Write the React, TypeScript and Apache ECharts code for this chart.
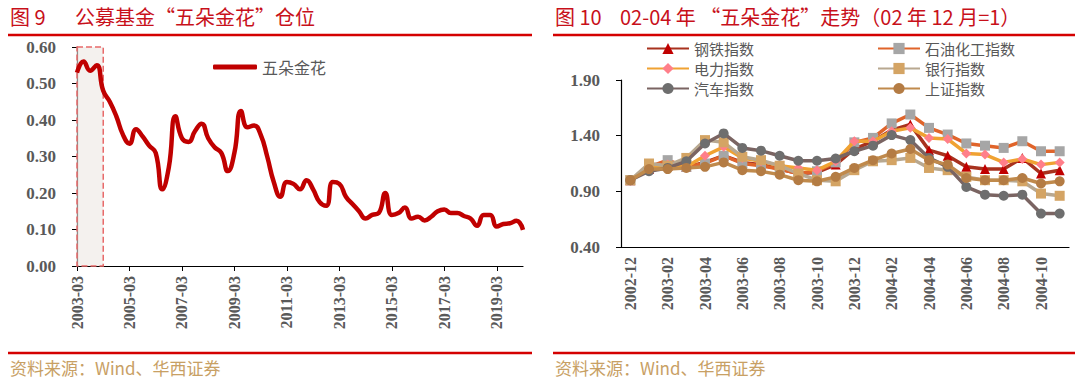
import React, { useEffect, useRef } from "react";
import * as echarts from "echarts";

// ---------- Left chart: 公募基金“五朵金花”仓位 (quarterly) ----------
const holdCategories: string[] = [];
for (let y = 2003; y <= 2020; y++) {
  for (const m of ["03", "06", "09", "12"]) {
    if (y === 2020 && m !== "03") continue;
    holdCategories.push(`${y}-${m}`);
  }
}
const holdValues = [
  0.53, 0.56, 0.535, 0.55, 0.48, 0.45, 0.41, 0.36, 0.335, 0.375, 0.355, 0.33,
  0.31, 0.21, 0.27, 0.41, 0.35, 0.34, 0.37, 0.39, 0.35, 0.325, 0.31, 0.26,
  0.31, 0.425, 0.38, 0.385, 0.36, 0.3, 0.23, 0.19, 0.23, 0.225, 0.21, 0.235,
  0.21, 0.175, 0.165, 0.23, 0.225, 0.19, 0.17, 0.15, 0.13, 0.14, 0.145, 0.2,
  0.14, 0.145, 0.16, 0.13, 0.135, 0.125, 0.135, 0.15, 0.155, 0.145, 0.145,
  0.137, 0.13, 0.11, 0.14, 0.14, 0.108, 0.115, 0.117, 0.124, 0.099,
];
const shadeStart = "2003-03";
const shadeEnd = "2004-03";

// ---------- Right chart: 02-04 年“五朵金花”走势 ----------
const monthCategories = [
  "2002-12", "2003-01", "2003-02", "2003-03", "2003-04", "2003-05", "2003-06",
  "2003-07", "2003-08", "2003-09", "2003-10", "2003-11", "2003-12", "2004-01",
  "2004-02", "2004-03", "2004-04", "2004-05", "2004-06", "2004-07", "2004-08",
  "2004-09", "2004-10", "2004-11",
];
const steel = [1.0, 1.1, 1.13, 1.12, 1.16, 1.22, 1.16, 1.14, 1.1, 1.06, 1.07, 1.14, 1.28, 1.35, 1.45, 1.5, 1.27, 1.22, 1.12, 1.1, 1.1, 1.2, 1.06, 1.09];
const petro = [1.0, 1.12, 1.18, 1.12, 1.15, 1.22, 1.15, 1.13, 1.1, 1.06, 1.08, 1.16, 1.34, 1.38, 1.51, 1.59, 1.47, 1.41, 1.33, 1.31, 1.29, 1.35, 1.26, 1.26];
const power = [1.0, 1.1, 1.14, 1.12, 1.22, 1.3, 1.2, 1.17, 1.13, 1.11, 1.09, 1.17, 1.35, 1.35, 1.44, 1.47, 1.38, 1.37, 1.24, 1.23, 1.16, 1.19, 1.14, 1.16];
const bank = [1.0, 1.15, 1.13, 1.2, 1.36, 1.34, 1.21, 1.18, 1.13, 1.06, 1.0, 0.99, 1.09, 1.17, 1.18, 1.2, 1.11, 1.09, 1.03, 1.0, 1.0, 0.99, 0.88, 0.86];
const auto = [1.0, 1.08, 1.11, 1.17, 1.33, 1.42, 1.29, 1.265, 1.22, 1.175, 1.175, 1.195, 1.26, 1.31, 1.405, 1.36, 1.2, 1.12, 0.94, 0.87, 0.86, 0.87, 0.7, 0.7];
const shanghai = [1.0, 1.1, 1.1, 1.11, 1.12, 1.16, 1.09, 1.08, 1.05, 1.0, 0.99, 1.03, 1.11, 1.18, 1.24, 1.28, 1.18, 1.14, 1.02, 1.0, 1.0, 1.02, 0.97, 0.99];

const seriesNames = ["钢铁指数", "石油化工指数", "电力指数", "银行指数", "汽车指数", "上证指数"];
const seriesData = [steel, petro, power, bank, auto, shanghai];
const lineColors = ["#a8321e", "#e0642a", "#f0a232", "#b8a890", "#7a6462", "#c08a4c"];
const markerColors = ["#c00000", "#a6a6a6", "#ff7f8a", "#d4a464", "#6e6e6e", "#b47c44"];
const markerShapes = ["triangle", "rect", "diamond", "rect", "circle", "circle"];

const CJK = "Noto Sans CJK SC";
const SERIF = "Liberation Serif";
const RED = "#c8101a";
const LABEL = "#595959";
const SOURCE = "#c8a064";

export default function App() {
  const ref = useRef<HTMLDivElement>(null);
  useEffect(() => {
    document.body.style.margin = "0";
    const chart = echarts.init(ref.current!, undefined, { renderer: "svg" });
    const axisLabelStyle = {
      color: LABEL,
      fontFamily: SERIF,
      fontWeight: "bold" as const,
      fontSize: 17,
    };
    const legendText = { color: LABEL, fontFamily: CJK, fontSize: 15, lineHeight: 14 };
    const option: any = {
      animation: false,
      backgroundColor: "#ffffff",
      grid: [
        { left: 77, top: 47, right: 557, bottom: 115 },
        { left: 621, top: 80, right: 11, bottom: 134 },
      ],
      legend: [
        {
          data: [{ name: "五朵金花", icon: "roundRect" }],
          left: 208,
          top: 54,
          itemWidth: 44,
          itemHeight: 5,
          textStyle: { ...legendText, fontSize: 16, lineHeight: 16 },
        },
        {
          data: ["钢铁指数", "电力指数", "汽车指数"],
          orient: "vertical",
          left: 641,
          top: 36,
          itemGap: 5,
          itemWidth: 42,
          itemHeight: 14,
          textStyle: legendText,
        },
        {
          data: ["石油化工指数", "银行指数", "上证指数"],
          orient: "vertical",
          left: 872,
          top: 36,
          itemGap: 5,
          itemWidth: 42,
          itemHeight: 14,
          textStyle: legendText,
        },
      ],
      xAxis: [
        {
          type: "category",
          gridIndex: 0,
          data: holdCategories,
          boundaryGap: false,
          axisLine: { lineStyle: { color: "#000", width: 1.2 } },
          axisTick: { interval: 7, length: 5, lineStyle: { color: "#000" } },
          axisLabel: { ...axisLabelStyle, fontSize: 16, interval: 7, rotate: 90, margin: 10 },
        },
        {
          type: "category",
          gridIndex: 1,
          data: monthCategories,
          boundaryGap: true,
          axisLine: { lineStyle: { color: "#000", width: 1.2 } },
          axisTick: { interval: 1, length: 5, lineStyle: { color: "#000" } },
          axisLabel: { ...axisLabelStyle, fontSize: 16, interval: 1, rotate: 90, margin: 10 },
        },
      ],
      yAxis: [
        {
          type: "value",
          gridIndex: 0,
          min: 0,
          max: 0.6,
          interval: 0.1,
          axisLine: { show: true, lineStyle: { color: "#000", width: 1.2 } },
          axisTick: { show: true, length: 5, lineStyle: { color: "#000" } },
          splitLine: { show: false },
          axisLabel: { ...axisLabelStyle, margin: 21, formatter: (v: number) => v.toFixed(2) },
        },
        {
          type: "value",
          gridIndex: 1,
          min: 0.4,
          max: 1.9,
          interval: 0.5,
          axisLine: { show: true, lineStyle: { color: "#000", width: 1.2 } },
          axisTick: { show: true, length: 5, lineStyle: { color: "#000" } },
          splitLine: { show: false },
          axisLabel: { ...axisLabelStyle, margin: 21, formatter: (v: number) => v.toFixed(2) },
        },
      ],
      series: [
        {
          name: "五朵金花",
          type: "line",
          xAxisIndex: 0,
          yAxisIndex: 0,
          data: holdValues,
          smooth: true,
          symbol: "none",
          lineStyle: { color: "#c00000", width: 4.5 },
          itemStyle: { color: "#c00000" },
          z: 2,
        },
        {
          name: "shade",
          type: "line",
          xAxisIndex: 0,
          yAxisIndex: 0,
          data: holdValues,
          symbol: "none",
          lineStyle: { opacity: 0 },
          silent: true,
          z: 5,
          markArea: {
            silent: true,
            itemStyle: {
              color: "rgba(236,232,226,0.6)",
              borderColor: "#e86a6a",
              borderWidth: 1.5,
              borderType: "dashed",
            },
            data: [[{ xAxis: shadeStart, yAxis: 0.6 }, { xAxis: shadeEnd, yAxis: 0 }]],
          },
        },
        ...seriesNames.map((name, i) => ({
          name,
          type: "line",
          xAxisIndex: 1,
          yAxisIndex: 1,
          data: seriesData[i],
          symbol: markerShapes[i],
          symbolSize: 10,
          lineStyle: { color: lineColors[i], width: 3.5 },
          itemStyle: { color: markerColors[i] },
          z: 3 + i,
        })),
      ],
      graphic: [
        { type: "text", left: 10, top: 6, style: { text: "图 9", fill: RED, font: `20px "${CJK}"` } },
        { type: "text", left: 75, top: 6, style: { text: "公募基金“五朵金花”仓位", fill: RED, font: `20px "${CJK}"` } },
        { type: "line", shape: { x1: 8, y1: 35, x2: 532, y2: 35 }, style: { stroke: "#d40000", lineWidth: 2.5 } },
        { type: "text", left: 555, top: 6, style: { text: "图 10", fill: RED, font: `20px "${CJK}"` } },
        { type: "text", left: 620, top: 6, style: { text: "02-04 年 “五朵金花”走势（02 年 12 月=1）", fill: RED, font: `20px "${CJK}"` } },
        { type: "line", shape: { x1: 553, y1: 35, x2: 1075, y2: 35 }, style: { stroke: "#d40000", lineWidth: 2.5 } },
        { type: "line", shape: { x1: 8, y1: 353, x2: 532, y2: 353 }, style: { stroke: "#d40000", lineWidth: 2.5 } },
        { type: "text", left: 10, top: 359, style: { text: "资料来源：Wind、华西证券", fill: SOURCE, font: `17px "${CJK}"` } },
        { type: "line", shape: { x1: 553, y1: 353, x2: 1075, y2: 353 }, style: { stroke: "#d40000", lineWidth: 2.5 } },
        { type: "text", left: 555, top: 359, style: { text: "资料来源：Wind、华西证券", fill: SOURCE, font: `17px "${CJK}"` } },
      ],
    };
    chart.setOption(option);
    return () => chart.dispose();
  }, []);
  return (
    <div
      ref={ref}
      style={{ position: "absolute", left: 0, top: 0, width: 1080, height: 381 }}
    />
  );
}
